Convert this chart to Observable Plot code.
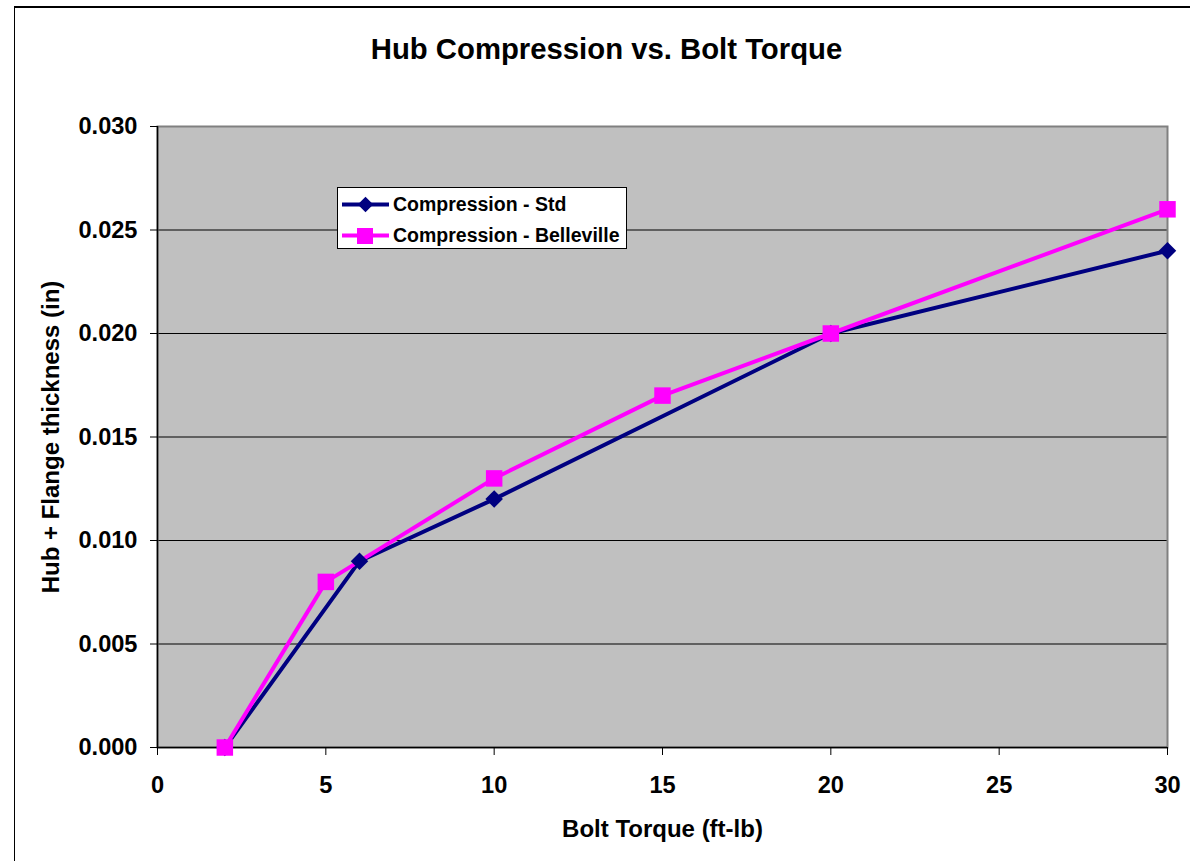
<!DOCTYPE html>
<html>
<head>
<meta charset="utf-8">
<script src="https://cdn.jsdelivr.net/npm/d3@7"></script>
<script src="https://cdn.jsdelivr.net/npm/@observablehq/plot@0.6"></script>
<style>
  html, body { margin: 0; padding: 0; background: #fff; }
  #wrap { position: relative; width: 1190px; height: 861px; overflow: hidden; font-family: "Liberation Sans", Arial, sans-serif; }
  #border { position: absolute; left: 14px; top: 6px; width: 1300px; height: 1000px; border-left: 1.5px solid #000; border-top: 2px solid #000; box-sizing: border-box; }
  #chart { position: absolute; left: 0; top: 0; }
  #legend { position: absolute; left: 337px; top: 187px; width: 290px; height: 62px; box-sizing: border-box; border: 1px solid #000; background: #fff; }
  .row { position: absolute; left: 4px; height: 24px; display: flex; align-items: center; font-weight: bold; font-size: 19.5px; color: #000; white-space: nowrap; }
  .row svg { margin-right: 3px; }
</style>
</head>
<body>
<div id="wrap">
  <div id="border"></div>
  <div id="chart"></div>
  <div id="legend"></div>
</div>
<script>
// ---- data ----
const xTicks = [0, 5, 10, 15, 20, 25, 30];
const yTicks = [0, 0.005, 0.010, 0.015, 0.020, 0.025, 0.030];
const torqueStd = [2, 6, 10, 20, 30];
const compStd = [0, 0.009, 0.012, 0.020, 0.024];
const torqueBell = [2, 5, 10, 15, 20, 30];
const compBell = [0, 0.008, 0.013, 0.017, 0.020, 0.026];
const seriesNames = ["Compression - Std", "Compression - Belleville"];
const seriesColors = ["#000080", "#FF00FF"];
const titleText = "Hub Compression vs. Bolt Torque";
const xLabel = "Bolt Torque (ft-lb)";
const yLabel = "Hub + Flange thickness (in)";

const stdData = torqueStd.map((t, i) => ({t, c: compStd[i]}));
const bellData = torqueBell.map((t, i) => ({t, c: compBell[i]}));
const font = "'Liberation Sans', Arial, sans-serif";

const chart = Plot.plot({
  width: 1190,
  height: 861,
  marginLeft: 157,
  marginRight: 23,
  marginTop: 126,
  marginBottom: 114,
  style: {fontFamily: font, background: "transparent", color: "#000"},
  x: {domain: [0, 30]},
  y: {domain: [0, 0.03]},
  marks: [
    Plot.frame({fill: "#C0C0C0"}),
    Plot.ruleY(yTicks.filter(d => d > 0 && d < 0.03), {stroke: "#000", strokeWidth: 1}),
    Plot.frame({stroke: "#808080", strokeWidth: 2}),
    Plot.ruleX([0], {stroke: "#000", strokeWidth: 1.5}),
    Plot.ruleY([0], {stroke: "#000", strokeWidth: 1.5}),
    Plot.axisY({ticks: yTicks, tickFormat: d3.format(".3f"), tickSize: 7, tickPadding: 13,
      fontSize: 23.6, fontWeight: "bold", label: null, stroke: "#000"}),
    Plot.axisX({ticks: xTicks, tickFormat: d3.format("d"), tickSize: 8, tickPadding: 21,
      fontSize: 23.6, fontWeight: "bold", label: null, stroke: "#000"}),
    Plot.line(stdData, {x: "t", y: "c", stroke: seriesColors[0], strokeWidth: 4}),
    Plot.line(bellData, {x: "t", y: "c", stroke: seriesColors[1], strokeWidth: 4}),
    Plot.dot(stdData, {x: "t", y: "c", symbol: "square", rotate: 45, r: 7, fill: seriesColors[0], stroke: "none"}),
    Plot.dot(bellData, {x: "t", y: "c", symbol: "square", r: 9.3, fill: seriesColors[1], stroke: "none"}),
    Plot.text([titleText], {frameAnchor: "top", dx: -56, dy: -88, lineAnchor: "top",
      fontSize: 29.3, fontWeight: "bold", fill: "#000"}),
    Plot.text([xLabel], {frameAnchor: "bottom", dy: 72, lineAnchor: "top",
      fontSize: 24, fontWeight: "bold", fill: "#000"}),
    Plot.text([yLabel], {frameAnchor: "left", dx: -106, rotate: -90, textAnchor: "middle", lineAnchor: "middle",
      fontSize: 24, fontWeight: "bold", fill: "#000"})
  ]
});
document.getElementById("chart").appendChild(chart);

// legend
const legend = document.getElementById("legend");
seriesNames.forEach((name, i) => {
  const row = document.createElement("div");
  row.className = "row";
  row.style.top = (i === 0 ? 4 : 35) + "px";
  const marker = i === 0
    ? `<rect x="18" y="6" width="11" height="11" fill="${seriesColors[0]}" transform="rotate(45 23.5 11.5)"/>`
    : `<rect x="15" y="4" width="16" height="16" fill="${seriesColors[1]}"/>`;
  row.innerHTML = `<svg width="48" height="23" viewBox="0 0 48 23"><line x1="0" x2="47" y1="11.5" y2="11.5" stroke="${seriesColors[i]}" stroke-width="4"/>${marker}</svg><span>${name}</span>`;
  legend.appendChild(row);
});
</script>
</body>
</html>
